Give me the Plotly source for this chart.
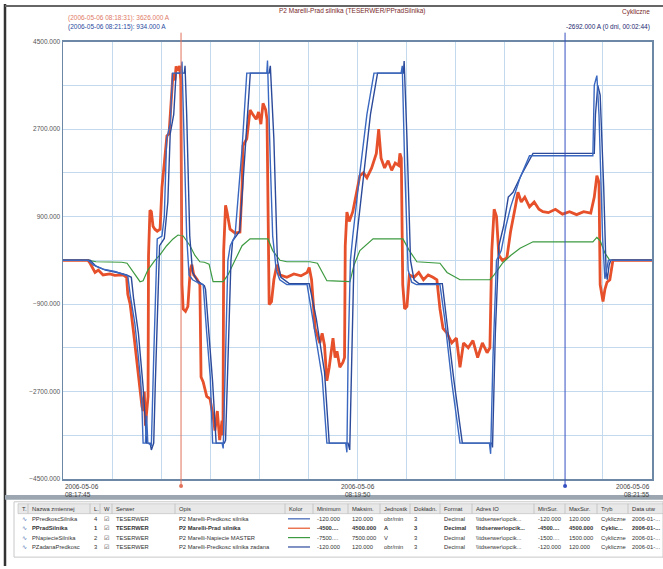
import pandas as pd
import plotly.graph_objects as go

START = pd.Timestamp("2006-05-06 08:17:45")
SPAN_S = 250

# ---- data (seconds from 08:17:45, values in chart units of PPradSilnika, A) ----
current_t = [0, 10.6, 11.5, 13.6, 15, 17, 19.9, 22, 25.5, 27, 27.5, 28.5, 30, 31.5, 32.7, 33.5, 34, 34.5, 35, 35.7, 36.1,
             36.3, 36.9, 37.5, 38.2, 39, 40, 41.2, 42, 43, 44.1, 45, 46, 46.7, 47.5, 48, 48.8, 49.5, 50,
             50.5, 51, 52, 53, 54, 54.7, 55.5, 57, 58.1, 58.6, 59.5, 61, 62.4, 63.7, 64.5, 65.5, 66.5, 67.5, 67.9,
             68.2, 69, 69.6, 70.9, 73, 75.1, 76, 76.4, 78, 79.4, 80.6, 82, 83, 84, 84.9, 86, 86.6,
             87.2, 87.5, 88.5, 89.5, 90.8, 92, 95, 98, 101, 103.6, 104.5, 105.5, 107, 107.8, 109, 110, 111, 112, 113,
             114.6, 115.5, 116.3, 117.5, 118.8, 119.5,
             119.8, 120.5, 121.5, 123, 126, 127.5, 129, 131, 133, 134, 135, 136.5, 138, 139.5, 141, 142.5, 143, 143.6,
             144.2, 145, 146, 147, 149, 151, 153, 155, 157, 158.7, 160, 161.3, 163, 165, 167, 168.5, 170, 172, 174,
             176, 178, 180, 181.2,
             182, 183, 184, 185, 186.5, 188.4, 190, 192, 193.1, 194.5, 196, 198, 200, 202, 203.7, 206, 209, 212, 215,
             218, 221, 224, 225.5, 226.6, 227.5,
             228, 229.2, 230, 230.9, 232.1, 233.4, 250]
current_v = [0, 0, -60, -250, -200, -300, -280, -310, -300, -350, -700, -900, -1500, -2200, -2700, -3000, -3100, -2700, -3400, -3000, -2800,
             100, 1030, 1000, 700, 640, 600, 640, 1500, 2000, 2560, 2600, 3400, 3850, 3700, 3990, 3900, 4000, 3700,
             -500, -1000, -1050, -950, -200, -90, -300, -400, -500, -2400, -2500, -2800, -2850, -3200, -3500, -3100, -3700, -3300, -3600,
             200, 1130, 1000, 640, 560, 580, 1500, 2360, 2500, 3090, 3000, 2900, 3050, 2800, 3230, 3100, 2900,
             -500, -910, -850, -400, -90, -300, -350, -280, -320, -250, -150, -400, -1400, -1520, -1700, -1500, -1750, -2480, -2200,
             -1600, -2000, -1870, -2200, -2100, -2000,
             300, 990, 800, 1000, 1740, 1800, 1700, 1900, 2200, 2700, 2100, 1900, 2050, 1850, 2000, 1950, 2200, 2100,
             -500, -1000, -950, -300, -350, -250, -400, -300, -350, -400, -1000, -1400, -1500, -1700, -1600, -2200, -1700, -1800, -1650,
             -2000, -1700, -1900, -1800,
             200, 1050, 900, 100, 0, 50, 600, 1100, 1400, 1200, 1300, 1100, 1200, 1050, 1000, 980, 1050, 950, 1000,
             940, 1000, 970, 1300, 1740, 1600,
             -500, -850, -600, -450, -400, 0, 0]

speed_t = [0, 10.6, 13, 17, 22, 25.5, 27.5, 28.5, 30.5, 32, 33, 33.5, 34, 35, 35.5, 36, 37.5, 38.5, 39.5, 40, 42, 43, 44,
           45.5, 46.5, 50, 50.5, 51.5, 52.5, 53.5, 55, 58, 59.5, 61, 62.5, 63.5, 67.5, 68, 69, 70, 71, 73, 76, 78,
           86.5, 86.8, 88, 89, 90.5, 92, 95, 103.6, 106, 110, 112, 120, 120.5, 121, 122, 123, 126, 129, 132,
           143.5, 144, 145, 146.5, 148, 150, 160, 162, 165, 168.5, 181, 181.5, 182.5, 184, 186, 188, 190, 194, 198,
           224.9, 225.5, 226.6, 227.5, 229, 230, 231.5, 250]
speed_v = [0, 0, -100, -180, -230, -280, -320, -700, -1300, -2000, -2500, -3000, -3760, -3760, -3200, -3760, -3800, -2000, 0, 440, 500, 900, 2500,
           2800, 3850, 3850, 4090, 2500, 500, -300, -400, -480, -500, -1500, -2400, -3760, -3760, -3870, -2000, 0, 300, 500, 2300, 3850,
           3850, 4110, 2000, 500, -200, -400, -500, -500, -1200, -2400, -3760, -3760, -3950, -2000, 0, 500, 1800, 3000, 3850,
           3850, 4000, 2000, -200, -450, -500, -500, -1200, -2500, -3760, -3760, -3980, -2000, 0, 200, 700, 1100, 1700, 2150,
           2150, 3600, 3800, 3000, 500, -380, 0, 0]

setspeed_t = [0, 11.5, 14, 18, 23, 27, 29, 30, 32, 34, 35.5, 37, 37.5, 38.5, 39.2, 40.5, 41, 43, 44.5, 45.5, 47, 48,
              51.5, 51.8, 52.5, 53.8, 55, 57, 60, 60.5, 62, 63.5, 65, 68.5, 69, 70.5, 71.3, 72, 75, 77.5, 79.5,
              87.5, 88, 89.5, 91, 92.5, 96, 104.5, 107.5, 111, 113, 121, 121.7, 122.8, 123.5, 124.5, 127, 130.5, 133.5,
              144.5, 144.8, 146, 147.5, 149, 151, 161, 163.5, 166, 169.5, 182, 182.3, 183.5, 185, 187, 189, 191, 195, 199.5,
              225.5, 226, 227, 228, 229.5, 230.5, 231, 231.8, 232.5, 250]
setspeed_v = [0, 0, -120, -200, -250, -300, -350, -800, -1500, -2600, -3760, -3760, -3900, -3760, -2500, -200, 300, 450, 1200, 2600, 3000, 3850,
              3850, 4000, 3000, 500, -250, -420, -520, -600, -1500, -2500, -3760, -3760, -3700, -1500, 0, 400, 600, 2400, 3850,
              3850, 4000, 2500, 0, -350, -480, -480, -1200, -2300, -3760, -3760, -3900, -1500, 0, 400, 1500, 3000, 3850,
              3850, 4100, 2500, 0, -400, -480, -480, -1500, -2500, -3760, -3760, -3850, -1500, 300, 700, 1300, 1400, 1800, 2200,
              2200, 3000, 3600, 3400, 1500, -200, -400, -100, 0, 0]

voltage_t = [0, 11, 14, 20, 25, 27.2, 30, 32.7, 34, 36, 39, 41, 44, 46.7, 48.8, 51, 53.9, 56, 58.1, 60, 62, 63.7, 68,
             70, 73, 76, 79.4, 87, 89, 92.1, 95, 104.8, 108, 110, 112, 121.8, 123.5, 126, 131.6, 144.3, 147, 150.2,
             160, 163, 168.5, 181.2, 183, 186.7, 190, 194, 199.5, 224.9, 226.6, 228, 230, 232.1, 250]
voltage_v = [0, 0, -30, -30, -40, -60, -250, -440, -420, -200, 0, 100, 300, 440, 520, 500, 300, 100, -30, -40, -80, -440, -440,
             -300, 0, 300, 440, 440, 200, 0, -30, -30, -60, -250, -420, -440, -100, 200, 440, 440, 200, -30,
             -60, -250, -400, -400, -300, -50, 100, 250, 380, 380, 470, 400, 150, 0, 0]

y_ticks = [4500, 2700, 900, -900, -2700, -4500]
x_tick_labels = ["2006-05-06<br>08:17:45", "2006-05-06<br>08:19:50", "2006-05-06<br>08:21:55"]
cursor_red_s = 50.1
cursor_blue_s = 213.1

title_text = "P2 Marelli-Prad silnika (TESERWER/PPradSilnika)"
mode_text = "Cykliczne"
red_cursor_text = "(2006-05-06 08:18:31): 3626.000 A"
blue_cursor_text = "(2006-05-06 08:21:15): 934.000 A"
diff_text = "-2692.000 A (0 dni, 00:02:44)"

table_header = ["T.", "Nazwa zmiennej", "L.", "W", "Serwer", "Opis", "Kolor", "Minimum", "Maksim.", "Jednostk",
                "Dokładn.", "Format", "Adres IO", "MinSur.", "MaxSur.", "Tryb", "Data utw"]
row_names = ["PPredkoscSilnika", "PPradSilnika", "PNapiecieSilnika", "PZadanaPredkosc"]
row_order = ["4", "1", "2", "3"]
row_desc = ["P2 Marelli-Predkosc silnika", "P2 Marelli-Prad silnika", "P2 Marelli-Napiecie MASTER",
            "P2 Marelli-Predkosc silnika zadana"]
row_min = ["-120.000", "-4500....", "-7500....", "-120.000"]
row_max = ["120.000", "4500.000", "7500.000", "120.000"]
row_unit = ["obr/min", "A", "V", "obr/min"]
row_minsur = ["-120.000", "-4500....", "-1500....", "-120.000"]
row_maxsur = ["120.000", "4500.000", "1500.000", "120.000"]
row_mode = ["Cykliczne", "Cyklic...", "Cykliczne", "Cykliczne"]
row_colors = ["#3a5fb0", "#e4572e", "#3d9a40", "#2c4a9a"]

# ---- helpers ----
W, H = 663, 569
def px(x):
    return x / W
def py(y):
    return 1 - y / H
def ts(s):
    return START + pd.to_timedelta(s, unit="s")

FONT = "Liberation Sans, Arial, sans-serif"
fig = go.Figure()

fig.add_trace(go.Scatter(x=ts(current_t), y=current_v, mode="lines", name="PPradSilnika",
                         line=dict(color="#e6502a", width=2.8)))
fig.add_trace(go.Scatter(x=ts(voltage_t), y=voltage_v, mode="lines", name="PNapiecieSilnika",
                         line=dict(color="#3d9a40", width=1.2)))
fig.add_trace(go.Scatter(x=ts(setspeed_t), y=setspeed_v, mode="lines", name="PZadanaPredkosc",
                         line=dict(color="#2c4a9a", width=1.4)))
fig.add_trace(go.Scatter(x=ts(speed_t), y=speed_v, mode="lines", name="PPredkoscSilnika",
                         line=dict(color="#3a68c0", width=1.4)))

grid = "#c3daee"
fig.update_xaxes(type="date", domain=[px(63), px(652)], range=[START, ts(SPAN_S)],
                 tick0=START, dtick=125000, showticklabels=False, ticks="",
                 showgrid=True, gridcolor=grid, gridwidth=1,
                 minor=dict(dtick=125000 / 6, tick0=START, showgrid=True, gridcolor=grid, gridwidth=1),
                 showline=True, mirror=True, linecolor="#6d88a6", linewidth=1.5, zeroline=False, fixedrange=True)
fig.update_yaxes(domain=[py(481), py(38)], range=[-4500, 4500],
                 tickmode="array", tickvals=y_ticks, tickformat=".3f", ticks="",
                 tickfont=dict(size=6.5, color="#555555", family=FONT),
                 showgrid=True, gridcolor=grid, gridwidth=1,
                 minor=dict(dtick=900, tick0=0, showgrid=True, gridcolor=grid, gridwidth=1),
                 showline=True, mirror=True, linecolor="#6d88a6", linewidth=1.5, zeroline=False)

shapes = [
    dict(type="line", xref="paper", yref="paper", x0=px(5), x1=px(5), y0=0, y1=1, line=dict(color="#333333", width=2.5)),
    dict(type="line", xref="paper", yref="paper", x0=px(5), x1=1, y0=py(2), y1=py(2), line=dict(color="#666666", width=2)),
    dict(type="rect", xref="paper", yref="paper", x0=px(5), x1=1, y0=py(502), y1=py(497),
         fillcolor="#9ba6b0", line=dict(width=0)),
    dict(type="line", xref="x", yref="paper", x0=ts(cursor_red_s), x1=ts(cursor_red_s), y0=py(488), y1=py(29),
         line=dict(color="#e2735a", width=1)),
    dict(type="line", xref="x", yref="paper", x0=ts(cursor_blue_s), x1=ts(cursor_blue_s), y0=py(488), y1=py(29),
         line=dict(color="#3550c0", width=1)),
    dict(type="circle", xref="x", yref="paper", xsizemode="pixel", ysizemode="pixel",
         xanchor=ts(cursor_red_s), yanchor=py(488), x0=-2, x1=2, y0=-2, y1=2,
         fillcolor="#e2735a", line=dict(width=0)),
    dict(type="circle", xref="x", yref="paper", xsizemode="pixel", ysizemode="pixel",
         xanchor=ts(cursor_blue_s), yanchor=py(488), x0=-2, x1=2, y0=-2, y1=2,
         fillcolor="#3550c0", line=dict(width=0)),
]

ann = [
    dict(text=title_text, x=px(352), y=py(7), xanchor="center", yanchor="middle",
         font=dict(size=6.5, color="#7a2a2a", family=FONT)),
    dict(text=mode_text, x=px(652), y=py(8), xanchor="right", yanchor="middle",
         font=dict(size=6.5, color="#7a2a2a", family=FONT)),
    dict(text=red_cursor_text, x=px(66), y=py(14), xanchor="left", yanchor="middle",
         font=dict(size=6.5, color="#e07a66", family=FONT)),
    dict(text=blue_cursor_text, x=px(66), y=py(23), xanchor="left", yanchor="middle",
         font=dict(size=6.5, color="#2a4aa0", family=FONT)),
    dict(text=diff_text, x=px(652), y=py(23), xanchor="right", yanchor="middle",
         font=dict(size=6.5, color="#1a2a70", family=FONT)),
]
anchors = ["left", "center", "right"]
for i, lab in enumerate(x_tick_labels):
    ann.append(dict(text=lab, x=ts(i * 125), xref="x", y=py(483), yref="paper", xanchor=anchors[i],
                    yanchor="top", align="left" if i == 0 else ("center" if i == 1 else "right"),
                    font=dict(size=6.5, color="#444444", family=FONT)))

# ---- table drawn with shapes and annotations ----
n = len(row_names)
col_vals = [
    ["∿"] * n, row_names, row_order, ["☑"] * n, ["TESERWER"] * n, row_desc, [""] * n,
    row_min, row_max, row_unit, ["3"] * n, ["Decimal"] * n, ["\\\\tdserwer\\opcik..."] * n,
    row_minsur, row_maxsur, row_mode, ["2006-01-..."] * n,
]
col_edges = [18, 28, 90, 100, 112, 175, 285, 313, 348, 380, 410, 440, 472, 534, 565, 597, 628, 663]
head_top, head_bot = 506, 516
row_h = 9.5
bold_row = 1

shapes.append(dict(type="rect", xref="paper", yref="paper", x0=px(14), x1=1, y0=py(560), y1=py(504),
                   fillcolor="#ffffff", line=dict(color="#c8c8c8", width=1)))
shapes.append(dict(type="rect", xref="paper", yref="paper", x0=px(col_edges[0]), x1=1, y0=py(head_bot), y1=py(head_top),
                   fillcolor="#e8e8e8", line=dict(color="#b8b8b8", width=0.6)))
for e in col_edges[1:-1]:
    shapes.append(dict(type="line", xref="paper", yref="paper", x0=px(e), x1=px(e), y0=py(head_bot), y1=py(head_top),
                       line=dict(color="#b0b0b0", width=0.6)))
for ci, h in enumerate(table_header):
    ann.append(dict(text=h, x=px(col_edges[ci] + 2), y=py((head_top + head_bot) / 2), xanchor="left", yanchor="middle",
                    font=dict(size=5.8, color="#333333", family=FONT)))
for r in range(n):
    yc = head_bot + row_h * (r + 0.5) + 0.5
    for ci, vals in enumerate(col_vals):
        txt = vals[r]
        if ci == 6:
            shapes.append(dict(type="line", xref="paper", yref="paper", x0=px(col_edges[ci] + 3), x1=px(col_edges[ci + 1] - 3),
                               y0=py(yc), y1=py(yc), line=dict(color=row_colors[r], width=1.2)))
            continue
        color = "#4a70b0" if ci == 0 else "#333333"
        if r == bold_row and ci not in (0, 3):
            txt = "<b>%s</b>" % txt
        ann.append(dict(text=txt, x=px(col_edges[ci] + 2), y=py(yc), xanchor="left", yanchor="middle",
                        font=dict(size=5.8, color=color, family=FONT)))

for a in ann:
    a.setdefault("xref", "paper")
    a.setdefault("yref", "paper")
    a["showarrow"] = False

fig.update_layout(width=W, height=H, margin=dict(l=0, r=0, t=0, b=0),
                  paper_bgcolor="#ffffff", plot_bgcolor="#ffffff", showlegend=False,
                  shapes=shapes, annotations=ann, font=dict(family=FONT))

fig.write_html("out.html", config={"displayModeBar": False, "staticPlot": True},
               post_script="document.body.style.margin='0';document.body.style.overflow='hidden';")
